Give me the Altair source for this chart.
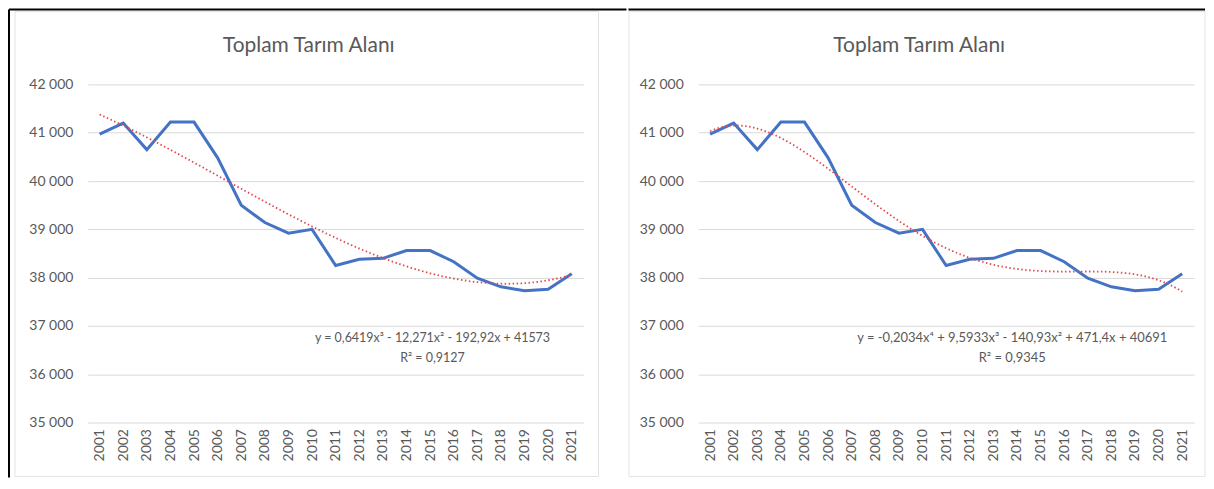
import altair as alt
import pandas as pd

years = list(range(2001, 2022))
area = [40970, 41200, 40650, 41220, 41220, 40480, 39500, 39140, 38920, 39000,
        38250, 38380, 38400, 38560, 38560, 38330, 37990, 37810, 37730, 37760, 38080]
title_text = "Toplam Tarım Alanı"
y_ticks = [35000, 36000, 37000, 38000, 39000, 40000, 41000, 42000]
eq_left = ["y = 0,6419x³ - 12,271x² - 192,92x + 41573", "R² = 0,9127"]
eq_right = ["y = -0,2034x⁴ + 9,5933x³ - 140,93x² + 471,4x + 40691", "R² = 0,9345"]
poly_orders = [3, 4]

df = pd.DataFrame({"year": years, "area": area})
one = pd.DataFrame({"k": [0]})

W, H = 497, 339
FONT = "Lato"
GREY = "#595959"

x_scale = alt.Scale(domain=[2000.5, 2021.5], nice=False, zero=False)
y_scale = alt.Scale(domain=[35000, 42000], nice=False, zero=False)
x_axis = alt.Axis(values=years, format="d", labelAngle=-90, grid=False,
                  domain=False, ticks=False, labelPadding=6,
                  labelFontSize=14, labelColor=GREY, labelFont=FONT,
                  title=None, labelOverlap=False, labelFlush=False, labelBound=False)
y_axis = alt.Axis(values=y_ticks, grid=True, gridColor="#d9d9d9",
                  domain=False, ticks=False, labelPadding=15,
                  labelFontSize=14, labelColor=GREY, labelFont=FONT,
                  labelExpr="replace(format(datum.value, ','), ',', ' ')",
                  title=None, labelOverlap=False)


def panel(order, eq, eq_x, eq_size, frame_x, frame_x2, black_x, black_x2, black_left):
    xenc = alt.X("year:Q", scale=x_scale, axis=x_axis)
    yenc = alt.Y("area:Q", scale=y_scale, axis=y_axis)
    base = alt.Chart(df)
    frame = alt.Chart(one).mark_rect(fill="white", fillOpacity=0, stroke="#e3e3e3",
                                     strokeWidth=1).encode(
        x=alt.value(frame_x), x2=alt.value(frame_x2),
        y=alt.value(-73), y2=alt.value(393))
    top_line = alt.Chart(one).mark_rule(color="black", strokeWidth=2).encode(
        x=alt.value(black_x), x2=alt.value(black_x2), y=alt.value(-75))
    layers = [frame, top_line]
    if black_left:
        left_line = alt.Chart(one).mark_rule(color="black", strokeWidth=2).encode(
            x=alt.value(-79), y=alt.value(-75), y2=alt.value(394))
        layers.append(left_line)
    title = alt.Chart(one).mark_text(font=FONT, fontSize=21, color=GREY,
                                     baseline="alphabetic").encode(
        x=alt.value(W / 2 - 27), y=alt.value(-32), text=alt.value(title_text))
    line = base.mark_line(color="#4472c4", strokeWidth=3).encode(x=xenc, y=yenc)
    trend = base.transform_regression("year", "area", method="poly", order=order).mark_line(
        color="#e5484a", strokeDash=[1.5, 2.5], strokeWidth=1.8).encode(x=xenc, y=yenc)
    t1 = alt.Chart(one).mark_text(font=FONT, fontSize=eq_size, color=GREY).encode(
        x=alt.XDatum(eq_x, type="quantitative", scale=x_scale, axis=x_axis),
        y=alt.YDatum(36740, type="quantitative", scale=y_scale, axis=y_axis),
        text=alt.value(eq[0]))
    t2 = alt.Chart(one).mark_text(font=FONT, fontSize=eq_size, color=GREY).encode(
        x=alt.XDatum(eq_x, type="quantitative", scale=x_scale, axis=x_axis),
        y=alt.YDatum(36345, type="quantitative", scale=y_scale, axis=y_axis),
        text=alt.value(eq[1]))
    layers += [title, line, trend, t1, t2]
    return alt.layer(*layers).properties(width=W, height=H)


left = panel(poly_orders[0], eq_left, 2015.1, 12.5, -73, 512, -79, 540, True)
right = panel(poly_orders[1], eq_right, 2013.8, 13, -69.5, 508, -70, 508, False)

chart = alt.hconcat(left, right, spacing=0).properties(
    padding={"left": 0, "top": 0, "right": 0, "bottom": 0}
).configure_view(stroke=None).configure_axis(labelOverlap=False)

chart.save("out.html", embed_options={"renderer": "svg", "actions": False})
